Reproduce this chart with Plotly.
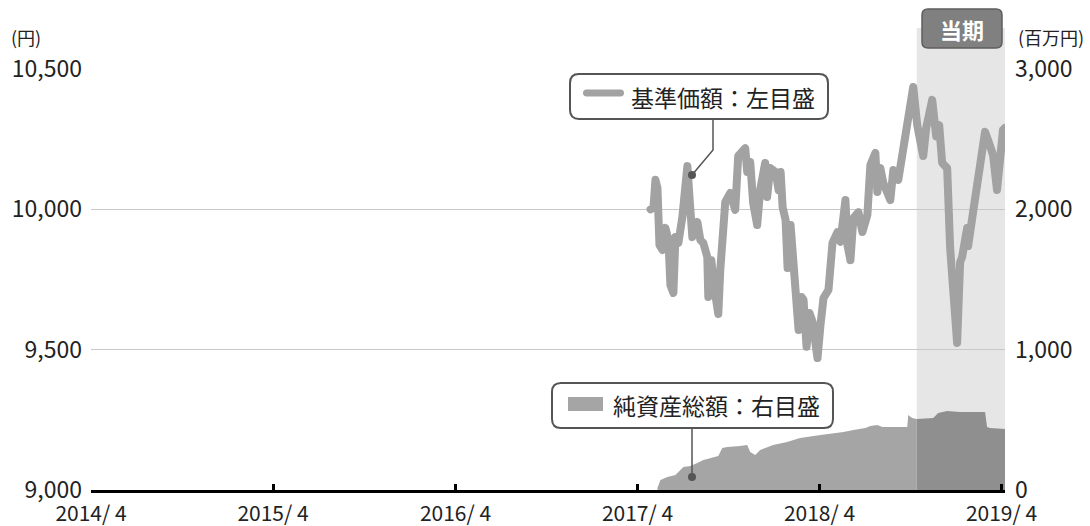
import plotly.graph_objects as go

# ---------------- data ----------------
price_dates = [
    "2017-04-27", "2017-05-03", "2017-05-07", "2017-05-11", "2017-05-15", "2017-05-21",
    "2017-05-27", "2017-06-02", "2017-06-06", "2017-06-12", "2017-06-16", "2017-06-22",
    "2017-06-30", "2017-07-04", "2017-07-10", "2017-07-16", "2017-07-20", "2017-07-30",
    "2017-08-05", "2017-08-11", "2017-08-19", "2017-08-21", "2017-08-27", "2017-09-02",
    "2017-09-10", "2017-09-14", "2017-09-18", "2017-09-24", "2017-10-04", "2017-10-14",
    "2017-10-20", "2017-11-03", "2017-11-07", "2017-11-13", "2017-11-19", "2017-11-27",
    "2017-12-03", "2017-12-13", "2017-12-17", "2017-12-23", "2018-01-03", "2018-01-09",
    "2018-01-13", "2018-01-17", "2018-01-23", "2018-01-27", "2018-02-02", "2018-02-08",
    "2018-02-16", "2018-02-18", "2018-02-24", "2018-02-28", "2018-03-06", "2018-03-12",
    "2018-03-18", "2018-03-22", "2018-03-28", "2018-04-03", "2018-04-09", "2018-04-19",
    "2018-04-27", "2018-05-07", "2018-05-13", "2018-05-23", "2018-05-27", "2018-06-02",
    "2018-06-08", "2018-06-18", "2018-06-26", "2018-07-06", "2018-07-12", "2018-07-22",
    "2018-07-26", "2018-08-01", "2018-08-07", "2018-08-21", "2018-08-27", "2018-09-06",
    "2018-09-14", "2018-09-20", "2018-09-26", "2018-10-06", "2018-10-14", "2018-10-20",
    "2018-10-26", "2018-11-01", "2018-11-13", "2018-11-21", "2018-11-27", "2018-12-03",
    "2018-12-13", "2018-12-19", "2018-12-25", "2019-01-02", "2019-01-08", "2019-01-12",
    "2019-01-22", "2019-01-24", "2019-02-03", "2019-02-11", "2019-02-17", "2019-02-27",
    "2019-03-05", "2019-03-15", "2019-03-23", "2019-03-29", "2019-04-04", "2019-04-08",
]
price_values = [
    10000, 10005, 10105, 10076, 9873, 9855,
    9934, 9891, 9730, 9702, 9901, 9880,
    9973, 10058, 10154, 9998, 9901, 9955,
    9891, 9880, 9830, 9688, 9819, 9720,
    9627, 9784, 9937, 10026, 10058, 9998,
    10190, 10218, 10133, 10169, 10022, 9944,
    10069, 10165, 10044, 10147, 10133, 10069,
    10133, 10008, 9962, 9791, 9944, 9812,
    9702, 9570, 9688, 9677, 9510, 9631,
    9599, 9534, 9470, 9588, 9684, 9713,
    9880, 9919, 9884, 10033, 9873, 9819,
    9969, 9990, 9919, 9980, 10158, 10201,
    10062, 10147, 10094, 10033, 10140, 10105,
    10183, 10254, 10311, 10436, 10300, 10258,
    10190, 10290, 10390, 10260, 10300, 10165,
    10147, 9862, 9730, 9524, 9812, 9830,
    9933, 9869, 9990, 10076, 10147, 10276,
    10247, 10194, 10069, 10186, 10283, 10290,
]

nav_dates = [
    "2017-05-11", "2017-05-17", "2017-05-31", "2017-06-16", "2017-07-02", "2017-07-16",
    "2017-07-30", "2017-08-11", "2017-08-19", "2017-08-31", "2017-09-10", "2017-09-18",
    "2017-09-28", "2017-10-24", "2017-11-07", "2017-11-13", "2017-11-23", "2017-12-03",
    "2017-12-17", "2017-12-29", "2018-01-26", "2018-02-21", "2018-04-03", "2018-05-19",
    "2018-06-08", "2018-07-02", "2018-07-12", "2018-07-26", "2018-08-05", "2018-09-24",
    "2018-09-26", "2018-10-04", "2018-10-13", "2018-11-15", "2018-11-25", "2018-12-13",
    "2019-01-08", "2019-02-27", "2019-03-03", "2019-03-09", "2019-04-08",
]
nav_values = [
    14, 71, 93, 107, 164, 171,
    192, 214, 221, 235, 242, 299,
    306, 313, 321, 271, 249, 285,
    306, 321, 342, 371, 392, 413,
    428, 442, 456, 463, 449, 449,
    534, 513, 506, 513, 549, 563,
    556, 556, 449, 442, 435,
]

x_tick_vals = ["2014-04-01", "2015-04-01", "2016-04-01", "2017-04-01", "2018-04-01", "2019-04-01"]
x_tick_text = ["2014/ 4", "2015/ 4", "2016/ 4", "2017/ 4", "2018/ 4", "2019/ 4"]
left_tick_vals = [9000, 9500, 10000, 10500]
left_tick_text = ["9,000", "9,500", "10,000", "10,500"]
right_tick_vals = [0, 1000, 2000, 3000]
right_tick_text = ["0", "1,000", "2,000", "3,000"]

x_start = "2014-04-01"
x_end = "2019-04-08"
period_start = "2018-10-13"

price_label = "基準価額：左目盛"
nav_label = "純資産総額：右目盛"
period_label = "当期"

# ---------------- layout helpers ----------------
W, H = 1090, 526
ML, MR, MT, MB = 91, 85, 69, 36
PW = W - ML - MR
PH = H - MT - MB
FONT = "Noto Sans CJK JP"
TXT = "#222222"
LINE_GRAY = "#a2a2a2"
AREA_GRAY = "#a5a5a5"
AREA_DARK = "#8f8f8f"
SHADE = "#e6e6e6"
EDGE = "#555555"


def px(x):
    return (x - ML) / PW


def py(y):
    return (H - MB - y) / PH


def rrect(x0, y0, x1, y1, r):
    pts = [
        ("M", [(x0 + r, y0)]),
        ("L", [(x1 - r, y0)]),
        ("Q", [(x1, y0), (x1, y0 + r)]),
        ("L", [(x1, y1 - r)]),
        ("Q", [(x1, y1), (x1 - r, y1)]),
        ("L", [(x0 + r, y1)]),
        ("Q", [(x0, y1), (x0, y1 - r)]),
        ("L", [(x0, y0 + r)]),
        ("Q", [(x0, y0), (x0 + r, y0)]),
    ]
    s = ""
    for cmd, ps in pts:
        s += cmd + " " + " ".join(f"{px(a):.5f},{py(b):.5f}" for a, b in ps) + " "
    return s + "Z"


# ---------------- figure ----------------
pre = [(d, v) for d, v in zip(nav_dates, nav_values) if d <= period_start]
post = [(d, v) for d, v in zip(nav_dates, nav_values) if d >= period_start]

fig = go.Figure()
fig.add_trace(go.Scatter(
    x=[d for d, _ in pre], y=[v for _, v in pre], yaxis="y2",
    mode="lines", line=dict(width=0, color=AREA_GRAY),
    fill="tozeroy", fillcolor=AREA_GRAY, hoverinfo="skip", showlegend=False,
))
fig.add_trace(go.Scatter(
    x=[d for d, _ in post], y=[v for _, v in post], yaxis="y2",
    mode="lines", line=dict(width=0, color=AREA_DARK),
    fill="tozeroy", fillcolor=AREA_DARK, hoverinfo="skip", showlegend=False,
))
fig.add_trace(go.Scatter(
    x=price_dates, y=price_values, yaxis="y",
    mode="lines", line=dict(width=8, color=LINE_GRAY),
    hoverinfo="skip", showlegend=False,
))

shapes = [
    # current-period shading
    dict(type="rect", xref="x", yref="paper", x0=period_start, x1=x_end,
         y0=0, y1=py(28), fillcolor=SHADE, line=dict(width=0), layer="below"),
    # period label box
    dict(type="path", xref="paper", yref="paper", path=rrect(922, 9, 1002, 48, 6),
         fillcolor="#808080", line=dict(color="#5e5e5e", width=1.5)),
    # legend box 1
    dict(type="path", xref="paper", yref="paper", path=rrect(570, 74, 828, 119, 9),
         fillcolor="white", line=dict(color=EDGE, width=2)),
    dict(type="path", xref="paper", yref="paper", path=rrect(583, 89.5, 624, 96.5, 3.5),
         fillcolor=LINE_GRAY, line=dict(width=0)),
    dict(type="path", xref="paper", yref="paper",
         path=f"M {px(713)},{py(119)} L {px(713)},{py(150)} L {px(692)},{py(175)}",
         line=dict(color=EDGE, width=1.5)),
    dict(type="circle", xref="paper", yref="paper", x0=px(688), x1=px(696),
         y0=py(179), y1=py(171), fillcolor=EDGE, line=dict(width=0)),
    # legend box 2
    dict(type="path", xref="paper", yref="paper", path=rrect(552, 383, 833, 428, 9),
         fillcolor="white", line=dict(color=EDGE, width=2)),
    dict(type="rect", xref="paper", yref="paper", x0=px(568), x1=px(603),
         y0=py(411), y1=py(397), fillcolor=AREA_GRAY, line=dict(width=0)),
    dict(type="line", xref="paper", yref="paper", x0=px(692), x1=px(692),
         y0=py(428), y1=py(477), line=dict(color=EDGE, width=1.5)),
    dict(type="circle", xref="paper", yref="paper", x0=px(688), x1=px(696),
         y0=py(481), y1=py(473), fillcolor=EDGE, line=dict(width=0)),
]

annotations = [
    dict(text=price_label, xref="paper", yref="paper", x=px(629), y=py(97),
         xanchor="left", yanchor="middle", showarrow=False,
         font=dict(size=23, color=TXT, family=FONT)),
    dict(text=nav_label, xref="paper", yref="paper", x=px(611), y=py(405),
         xanchor="left", yanchor="middle", showarrow=False,
         font=dict(size=23, color=TXT, family=FONT)),
    dict(text="<b>" + period_label + "</b>", xref="paper", yref="paper", x=px(962), y=py(29),
         xanchor="center", yanchor="middle", showarrow=False,
         font=dict(size=22, color="white", family=FONT)),
    dict(text="(円)", xref="paper", yref="paper", x=px(9), y=py(37),
         xanchor="left", yanchor="middle", showarrow=False,
         font=dict(size=18, color=TXT, family=FONT)),
    dict(text="(百万円)", xref="paper", yref="paper", x=px(1016), y=py(37),
         xanchor="left", yanchor="middle", showarrow=False,
         font=dict(size=18, color=TXT, family=FONT)),
]

fig.update_layout(
    width=W, height=H,
    autosize=False,
    margin=dict(l=ML, r=MR, t=MT, b=MB, pad=0, autoexpand=False),
    paper_bgcolor="white", plot_bgcolor="white",
    font=dict(family=FONT, size=23, color=TXT),
    showlegend=False,
    shapes=shapes,
    annotations=annotations,
    xaxis=dict(
        type="date", range=[x_start, x_end], automargin=False,
        tickmode="array", tickvals=x_tick_vals, ticktext=x_tick_text,
        ticks="inside", ticklen=6, tickwidth=3, tickcolor="black",
        showline=True, linewidth=3, linecolor="black",
        showgrid=False, zeroline=False,
        ticklabelstandoff=3,
        tickfont=dict(size=21, color=TXT),
    ),
    yaxis=dict(
        range=[9000, 10500], automargin=False,
        tickmode="array", tickvals=left_tick_vals, ticktext=left_tick_text,
        showgrid=True, gridcolor="#c8c8c8", gridwidth=1,
        showline=False, zeroline=False, ticks="",
        ticklabelstandoff=8,
        tickfont=dict(size=23, color=TXT),
    ),
    yaxis2=dict(
        range=[0, 3000], overlaying="y", side="right", automargin=False,
        tickmode="array", tickvals=right_tick_vals, ticktext=right_tick_text,
        showgrid=False, showline=False, zeroline=False, ticks="",
        ticklabelstandoff=9,
        tickfont=dict(size=23, color=TXT),
    ),
)

post_js = """
document.body.style.margin = '0px';
function roundJoins() {
  document.querySelectorAll('.scatterlayer path.js-line').forEach(function (p) {
    p.style.strokeLinejoin = 'round';
    p.style.strokeLinecap = 'round';
  });
}
roundJoins();
setTimeout(roundJoins, 0);
var gd = document.getElementById('{plot_id}');
if (gd && gd.on) { gd.on('plotly_afterplot', roundJoins); }
"""

fig.write_html("out.html", post_script=post_js, config={"displayModeBar": False})
